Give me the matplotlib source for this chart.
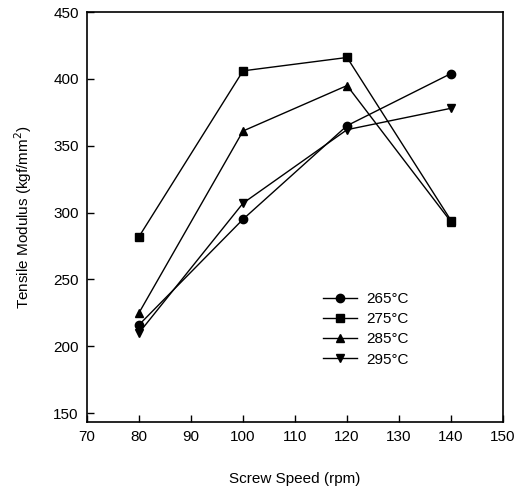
import matplotlib
matplotlib.use("Agg")
import matplotlib.pyplot as plt

plt.rcParams['font.family'] = ['Liberation Sans', 'DejaVu Sans']

speed = [80, 100, 120, 140]
s265 = [216, 295, 365, 404]
s275 = [282, 406, 416, 294]
s285 = [225, 361, 395, 293]
s295 = [210, 307, 362, 378]
labels = ['265°C', '275°C', '285°C', '295°C']
markers = ['o', 's', '^', 'v']

fig = plt.figure(figsize=(5.29, 4.91), dpi=100)
ax = fig.add_axes([0.1645, 0.1405, 0.7865, 0.835])

for ys, lab, m in zip([s265, s275, s285, s295], labels, markers):
    ax.plot(speed, ys, color='black', lw=1.0, marker=m, markersize=6, label=lab)

ax.set_xlim(70, 150)
ax.set_ylim(143.3, 450)
ax.set_xticks(range(70, 151, 10))
ax.set_yticks(range(150, 451, 50))
ax.tick_params(direction='in', length=5, width=1, labelsize=11, pad=6,
               top=False, right=False)
for sp in ax.spines.values():
    sp.set_linewidth(1.2)

ax.set_xlabel('Screw Speed (rpm)', fontsize=11, labelpad=20)
ax.set_ylabel('Tensile Modulus (kgf/mm$^2$)', fontsize=11, labelpad=14)

ax.legend(loc='upper left', bbox_to_anchor=(0.535, 0.35), frameon=False,
          fontsize=11, handlelength=2.2, handletextpad=0.6, labelspacing=0.4)

fig.savefig('out.png', dpi=100)
